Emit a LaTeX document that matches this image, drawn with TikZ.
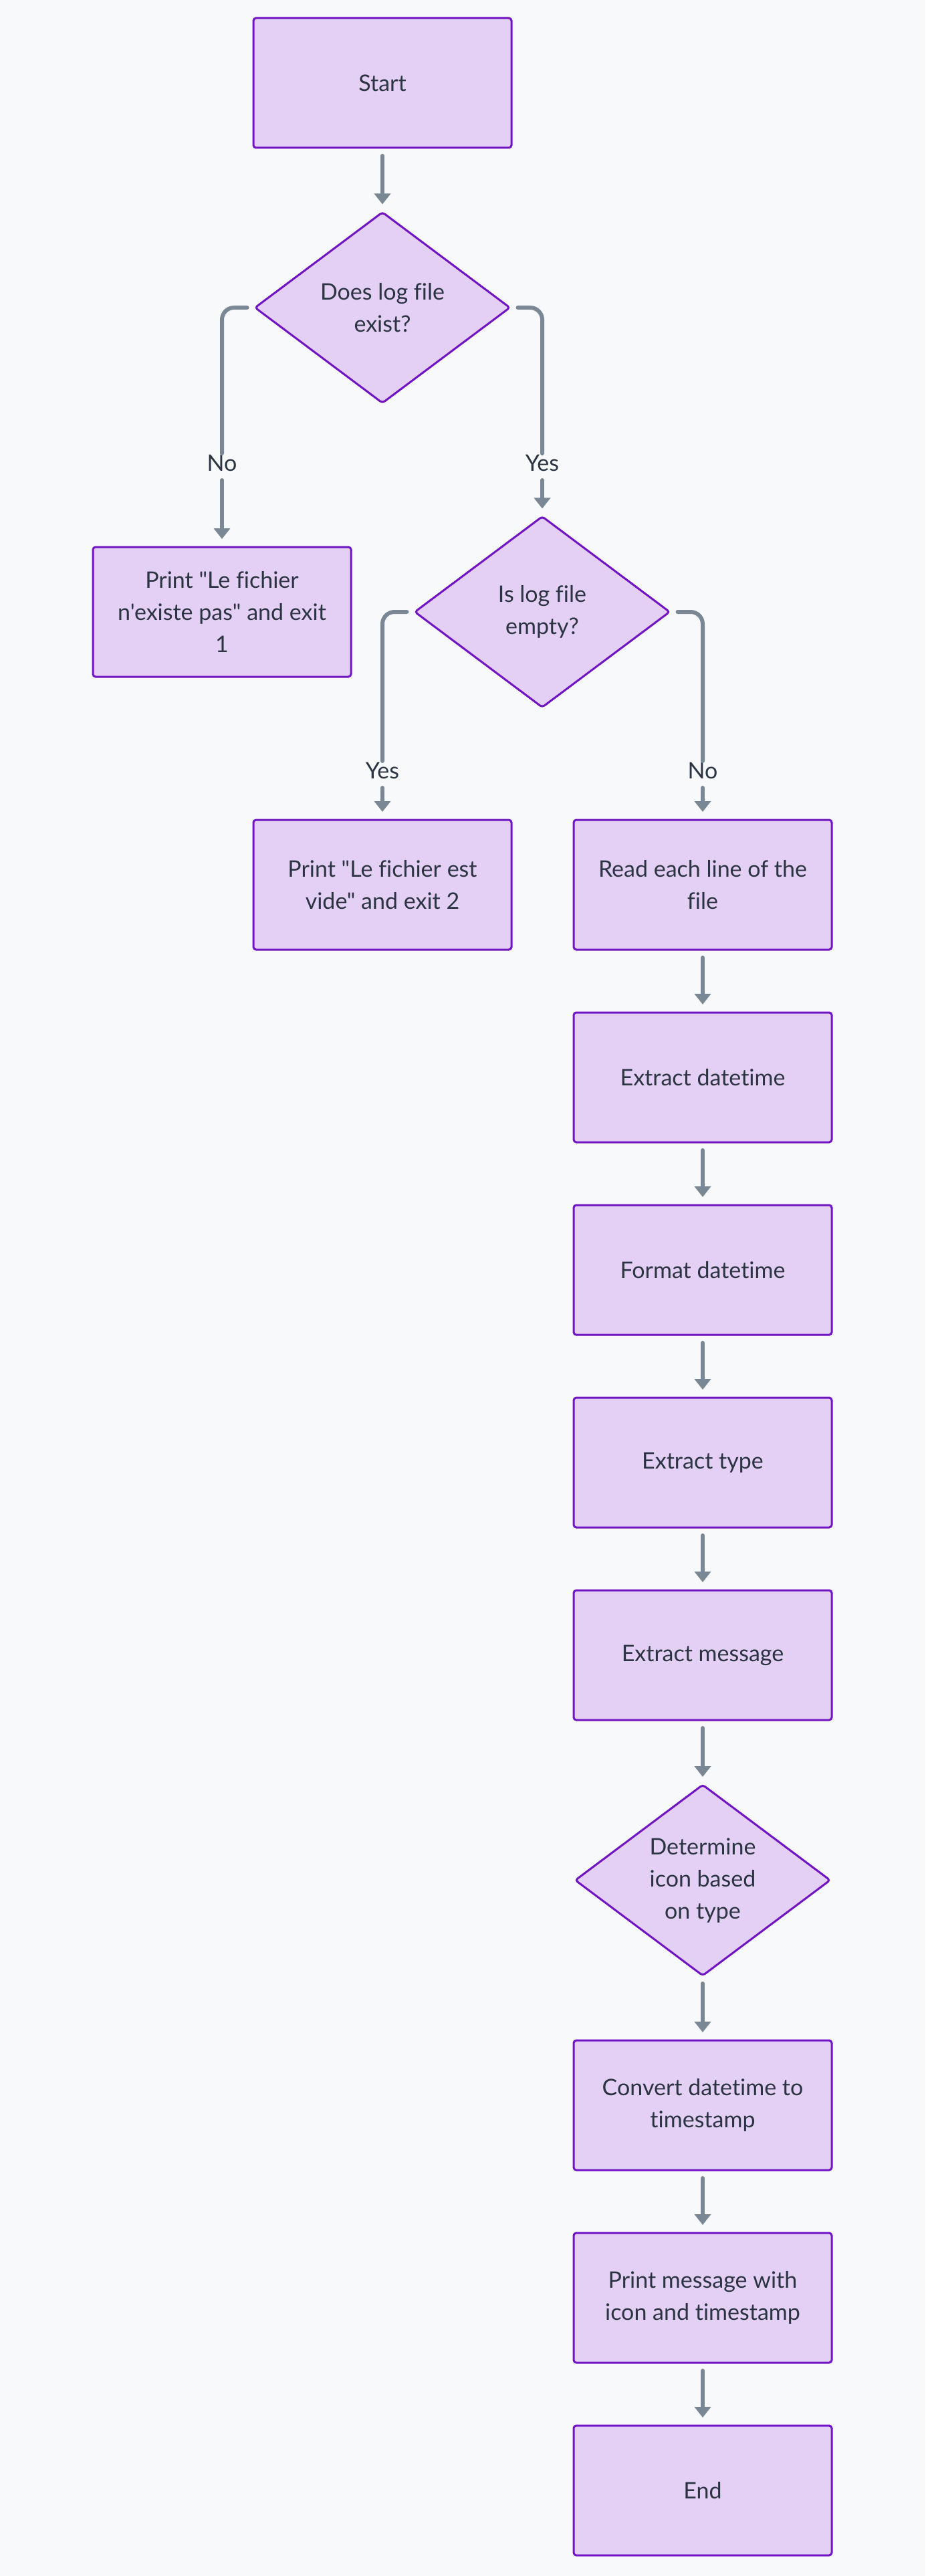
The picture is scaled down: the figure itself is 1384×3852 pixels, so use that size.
\documentclass[tikz,border=0pt]{standalone}
\usepackage{fontspec}
\setmainfont[Ligatures={TeXOff,NoCommon}]{Lato}
\usetikzlibrary{shapes.geometric,arrows.meta}
\definecolor{bgcol}{HTML}{F8F9FA}
\definecolor{nodefill}{HTML}{E4D0F4}
\definecolor{nodeline}{HTML}{7014C4}
\definecolor{edgecol}{HTML}{7A8896}
\definecolor{textcol}{HTML}{2B3442}
\begin{document}
\begin{tikzpicture}[x=0.25pt,y=-0.25pt,inner sep=0pt,outer sep=0pt,
procbox/.style={draw=nodeline,fill=nodefill,line width=0.75pt,rounded corners=1pt,rectangle,minimum width=96.5pt,minimum height=48.5pt,align=center,text=textcol,font=\fontsize{8.5}{12}\selectfont},
decbox/.style={draw=nodeline,fill=nodefill,line width=0.75pt,rounded corners=1pt,diamond,aspect=1.34,minimum width=95.25pt,minimum height=71.25pt,align=center,text=textcol,font=\fontsize{8.5}{12}\selectfont},
edgelabel/.style={minimum height=7pt,text=textcol,font=\fontsize{8.5}{12}\selectfont},
flow/.style={draw=edgecol,line width=1.5pt,line cap=round,rounded corners=4.5pt,shorten <=3pt,shorten >=3pt,-{Triangle[width=6pt,length=4pt]}},
link/.style={draw=edgecol,line width=1.5pt,line cap=round,rounded corners=4.5pt,shorten <=3pt}]
\fill[bgcol] (0,0) rectangle (1384,3852);
\useasboundingbox (0,0) rectangle (1384,3852);
\draw (572,124) node[procbox] (start) {Start};
\draw (572,460) node[decbox] (logexists) {Does log file\\exist?};
\draw (332,692) node[edgelabel] (nolabel) {No};
\draw (811,692) node[edgelabel] (yeslabel) {Yes};
\draw (332,915) node[procbox] (notfound) {Print "Le fichier\\n'existe pas" and exit\\1};
\draw (811,915) node[decbox] (logempty) {Is log file\\empty?};
\draw (572,1152) node[edgelabel] (yesempty) {Yes};
\draw (1051,1152) node[edgelabel] (noempty) {No};
\draw (572,1323) node[procbox] (isempty) {Print "Le fichier est\\vide" and exit 2};
\draw (1051,1323) node[procbox] (readline) {Read each line of the\\file};
\draw (1051,1611) node[procbox] (extdate) {Extract datetime};
\draw (1051,1899) node[procbox] (fmtdate) {Format datetime};
\draw (1051,2187) node[procbox] (exttype) {Extract type};
\draw (1051,2475) node[procbox] (extmsg) {Extract message};
\draw (1051,2811.5) node[decbox] (geticon) {Determine\\icon based\\on type};
\draw (1051,3148) node[procbox] (tostamp) {Convert datetime to\\timestamp};
\draw (1051,3436) node[procbox] (printmsg) {Print message with\\icon and timestamp};
\draw (1051,3724) node[procbox] (finish) {End};
\draw[flow] (start) -- (logexists);
\draw[link] (logexists.west) -| (nolabel.north);
\draw[flow] (nolabel) -- (notfound);
\draw[link] (logexists.east) -| (yeslabel.north);
\draw[flow] (yeslabel) -- (logempty);
\draw[link] (logempty.west) -| (yesempty.north);
\draw[flow] (yesempty) -- (isempty);
\draw[link] (logempty.east) -| (noempty.north);
\draw[flow] (noempty) -- (readline);
\draw[flow] (readline) -- (extdate);
\draw[flow] (extdate) -- (fmtdate);
\draw[flow] (fmtdate) -- (exttype);
\draw[flow] (exttype) -- (extmsg);
\draw[flow] (extmsg) -- (geticon);
\draw[flow] (geticon) -- (tostamp);
\draw[flow] (tostamp) -- (printmsg);
\draw[flow] (printmsg) -- (finish);
\end{tikzpicture}
\end{document}
